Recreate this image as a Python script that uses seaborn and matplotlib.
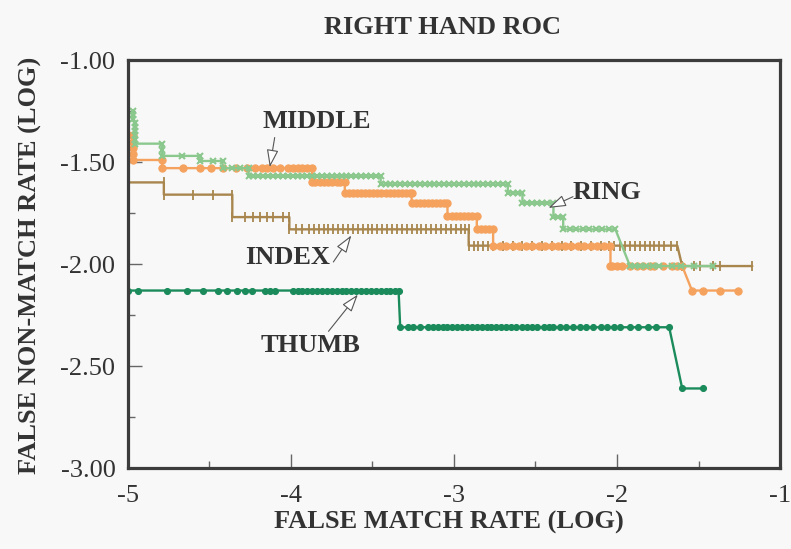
import matplotlib
matplotlib.use("Agg")
import matplotlib.pyplot as plt
import seaborn as sns
import pandas as pd

# ---------------- data ----------------
TITLE = "RIGHT HAND ROC"
X_LABEL = "FALSE MATCH RATE (LOG)"
Y_LABEL = "FALSE NON-MATCH RATE (LOG)"

X_TICKS = [-5, -4, -3, -2, -1]
X_TICK_LABELS = ["-5", "-4", "-3", "-2", "-1"]
Y_TICKS = [-3.0, -2.5, -2.0, -1.5, -1.0]
Y_TICK_LABELS = ["-3.00", "-2.50", "-2.00", "-1.50", "-1.00"]

# each series: step levels (FNMR) and the FMR positions of the points on each level
INDEX_LEVELS = [-1.60, -1.66, -1.77, -1.83, -1.91, -2.01]
INDEX_X = [
    [-5.00, -4.78],
    [-4.78, -4.60, -4.48, -4.36],
    [-4.36, -4.28, -4.23, -4.19, -4.15, -4.11, -4.05, -4.01],
    [-4.01, -3.97, -3.93, -3.89, -3.86, -3.83, -3.80, -3.77, -3.74, -3.71, -3.68,
     -3.65, -3.62, -3.59, -3.56, -3.53, -3.50, -3.47, -3.44, -3.41, -3.38, -3.35,
     -3.32, -3.29, -3.26, -3.23, -3.20, -3.17, -3.14, -3.11, -3.08, -3.05, -3.02,
     -2.99, -2.96, -2.93, -2.91],
    [-2.91, -2.88, -2.85, -2.82, -2.79, -2.76, -2.70, -2.64, -2.58, -2.52, -2.46,
     -2.40, -2.34, -2.28, -2.22, -2.16, -2.10, -2.05, -2.02, -1.98, -1.95, -1.92,
     -1.89, -1.86, -1.83, -1.80, -1.77, -1.74, -1.71, -1.67, -1.63],
    [-1.60, -1.53, -1.49, -1.41, -1.37, -1.17],
]

MIDDLE_LEVELS = [-1.37, -1.40, -1.43, -1.46, -1.49, -1.53, -1.60, -1.65, -1.70,
                 -1.765, -1.83, -1.91, -2.01, -2.13]
MIDDLE_X = [
    [-5.00, -4.97],
    [-4.97],
    [-4.97],
    [-4.97],
    [-4.97, -4.79],
    [-4.79, -4.66, -4.56, -4.49, -4.42, -4.34, -4.27, -4.22, -4.18, -4.15, -4.11,
     -4.07, -4.02, -3.99, -3.96, -3.93, -3.90, -3.87],
    [-3.87, -3.85, -3.82, -3.80, -3.77, -3.75, -3.72, -3.70, -3.67],
    [-3.67, -3.645, -3.62, -3.595, -3.57, -3.545, -3.52, -3.495, -3.47, -3.445,
     -3.42, -3.395, -3.37, -3.345, -3.32, -3.295, -3.27, -3.26],
    [-3.26, -3.235, -3.21, -3.185, -3.16, -3.135, -3.11, -3.085, -3.06, -3.04],
    [-3.04, -3.015, -2.99, -2.965, -2.94, -2.915, -2.89, -2.86],
    [-2.86, -2.835, -2.81, -2.785, -2.76],
    [-2.76, -2.72, -2.68, -2.64, -2.60, -2.56, -2.52, -2.48, -2.44, -2.40, -2.36,
     -2.32, -2.28, -2.24, -2.20, -2.16, -2.12, -2.08, -2.04],
    [-2.04, -2.03, -2.00, -1.97, -1.92, -1.88, -1.84, -1.80, -1.77, -1.72, -1.66,
     -1.63, -1.60],
    [-1.54, -1.47, -1.37, -1.26],
]

RING_LEVELS = [-1.25, -1.27, -1.29, -1.31, -1.33, -1.35, -1.37, -1.39, -1.41, -1.44,
               -1.47, -1.495, -1.53, -1.57, -1.61, -1.65, -1.70, -1.77, -1.83, -2.01]
RING_X = [
    [-4.97], [-4.97], [-4.97], [-4.96], [-4.96], [-4.96], [-4.96], [-4.96],
    [-4.96, -4.79],
    [-4.79],
    [-4.79, -4.67, -4.56],
    [-4.56, -4.48, -4.42],
    [-4.42, -4.36, -4.31, -4.26],
    [-4.26, -4.23, -4.20, -4.17, -4.14, -4.11, -4.08, -4.05, -4.02, -3.99, -3.96,
     -3.93, -3.90, -3.87, -3.84, -3.81, -3.78, -3.75, -3.72, -3.69, -3.66, -3.63,
     -3.60, -3.57, -3.54, -3.51, -3.48, -3.45],
    [-3.45, -3.42, -3.39, -3.36, -3.33, -3.30, -3.27, -3.24, -3.21, -3.18, -3.15,
     -3.12, -3.09, -3.06, -3.03, -3.00, -2.97, -2.94, -2.91, -2.88, -2.85, -2.82,
     -2.79, -2.76, -2.73, -2.70, -2.67],
    [-2.67, -2.64, -2.61, -2.58],
    [-2.58, -2.55, -2.52, -2.49, -2.46, -2.43, -2.39],
    [-2.39, -2.36, -2.33],
    [-2.33, -2.29, -2.25, -2.21, -2.17, -2.13, -2.09, -2.05, -2.01],
    [-1.92, -1.89, -1.86, -1.82, -1.78, -1.74, -1.66, -1.61, -1.53, -1.41],
]

THUMB_LEVELS = [-2.13, -2.31, -2.61]
THUMB_X = [
    [-5.00, -4.94, -4.76, -4.64, -4.54, -4.45, -4.39, -4.33, -4.28, -4.24, -4.16,
     -4.13, -4.10, -3.99, -3.96, -3.93, -3.90, -3.87, -3.84, -3.81, -3.78, -3.75,
     -3.72, -3.69, -3.66, -3.63, -3.60, -3.57, -3.54, -3.51, -3.48, -3.45, -3.42,
     -3.39, -3.36, -3.34],
    [-3.33, -3.28, -3.25, -3.21, -3.16, -3.13, -3.10, -3.07, -3.04, -3.01, -2.98,
     -2.95, -2.92, -2.89, -2.86, -2.83, -2.80, -2.77, -2.74, -2.71, -2.68, -2.65,
     -2.62, -2.58, -2.55, -2.52, -2.49, -2.45, -2.42, -2.39, -2.35, -2.31, -2.27,
     -2.23, -2.19, -2.15, -2.10, -2.06, -2.02, -1.98, -1.92, -1.87, -1.81, -1.76,
     -1.68],
    [-1.60, -1.47],
]

# annotation labels: (text, text position, arrow start, arrow tip) in data units
LABELS = ["MIDDLE", "RING", "INDEX", "THUMB"]
LABEL_POS = [(-3.84, -1.30), (-2.06, -1.65), (-4.02, -1.97), (-3.88, -2.40)]
ARROW_FROM = [(-4.10, -1.38), (-2.27, -1.67), (-3.74, -1.99), (-3.77, -2.33)]
ARROW_TO = [(-4.13, -1.525), (-2.42, -1.725), (-3.63, -1.86), (-3.59, -2.15)]


def to_frame(levels, xs):
    rows = []
    for lev, xx in zip(levels, xs):
        for v in xx:
            rows.append((v, lev))
    return pd.DataFrame(rows, columns=["fmr", "fnmr"])


# ---------------- drawing ----------------
sns.set_theme(style="white")
plt.rcParams["font.family"] = ["Liberation Serif", "DejaVu Serif"]

BG = "#f8f8f8"
TXT = "#333333"
fig = plt.figure(figsize=(7.91, 5.49), dpi=100, facecolor=BG)
ax = fig.add_axes([0.1618, 0.1475, 0.8243, 0.7432])
ax.set_facecolor(BG)

series = [
    (INDEX_LEVELS, INDEX_X, "#a8864e", "|", 6.5, 1.3),
    (MIDDLE_LEVELS, MIDDLE_X, "#f5a25e", "o", 5.2, 0.8),
    (RING_LEVELS, RING_X, "#8bc88d", "x", 4.8, 1.5),
    (THUMB_LEVELS, THUMB_X, "#1b8b5c", "o", 4.3, 0.8),
]
for levels, xs, col, mk, ms, mew in series:
    df = to_frame(levels, xs)
    sns.lineplot(data=df, x="fmr", y="fnmr", sort=False, estimator=None, ax=ax,
                 color=col, linewidth=1.7, marker=mk, markersize=ms,
                 markeredgecolor=col, markerfacecolor=col, markeredgewidth=mew,
                 legend=False)

ax.set_xlim(-5, -1)
ax.set_ylim(-3, -1)
ax.set_xticks(X_TICKS)
ax.set_xticklabels(X_TICK_LABELS)
ax.set_yticks(Y_TICKS)
ax.set_yticklabels(Y_TICK_LABELS)
ax.set_xticks([-4.5, -3.5, -2.5, -1.5], minor=True)
ax.set_yticks([-2.75, -2.25, -1.75, -1.25], minor=True)
ax.tick_params(which="major", direction="in", length=10, width=1, color="#666666",
               labelsize=19, labelcolor=TXT)
ax.tick_params(axis="x", which="major", pad=12)
ax.tick_params(axis="y", which="major", pad=9)
ax.tick_params(which="minor", direction="in", length=5, width=1, color="#666666")
ax.tick_params(bottom=True, left=True, top=False, right=False, which="both")
ax.set_xlabel("")
ax.set_ylabel("")
for sp in ax.spines.values():
    sp.set_linewidth(2.3)
    sp.set_color("#3c3c3c")
    sp.set_visible(True)

for txt, pos, a0, a1 in zip(LABELS, LABEL_POS, ARROW_FROM, ARROW_TO):
    ax.text(pos[0], pos[1], txt, ha="center", va="center", fontsize=19,
            fontweight="bold", color=TXT)
    ax.annotate("", xy=a1, xytext=a0,
                arrowprops=dict(arrowstyle="-|>,head_length=0.9,head_width=0.3",
                                fc="white", ec="#555555", lw=0.8,
                                shrinkA=0, shrinkB=0))

fig.text(0.5588, 0.9508, TITLE, ha="center", va="center", fontsize=19,
         fontweight="bold", color=TXT)
fig.text(0.5676, 0.0492, X_LABEL, ha="center", va="center", fontsize=19,
         fontweight="bold", color=TXT)
fig.text(0.0379, 0.517, Y_LABEL, ha="center", va="center", rotation=90,
         fontsize=19, fontweight="bold", color=TXT)

fig.savefig("out.png", dpi=100, facecolor=BG)
